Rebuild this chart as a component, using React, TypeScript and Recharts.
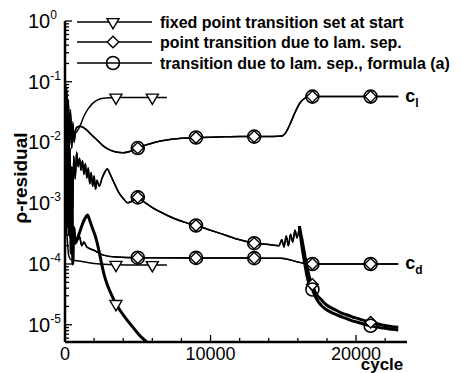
import { ComposedChart, Line, XAxis, YAxis, LabelList } from "recharts";

const W = 462;
const H = 373;
const PLOT = { left: 65, top: 21, right: 407, bottom: 342 };
const Y_MIN = 5.2e-6;
const Y_MAX = 1;
const X_MAX = 23500;
const FONT = "'Liberation Sans', Arial, Helvetica, sans-serif";

// axis ticks
const yExponents = [0, -1, -2, -3, -4, -5];
const xTickValues = [0, 2000, 4000, 6000, 8000, 10000, 12000, 14000, 16000, 18000, 20000, 22000];
const xLabelValues = [0, 10000, 20000];

const seriesNames = [
  "fixed point transition set at start",
  "point transition due to lam. sep.",
  "transition due to lam. sep., formula (a)",
];

// marker positions (cycle)
const fixedMarkers = [3500, 6000];
const sepMarkers = [5000, 9000, 13000, 17000, 21000];

// [cycle, value]
const fixedCl = [
  [0, 0.12], [60, 0.025], [120, 0.08], [180, 0.015], [240, 0.05], [300, 0.011],
  [380, 0.035], [460, 0.009], [540, 0.022], [620, 0.01], [720, 0.014], [800, 0.015],
  [1000, 0.018], [1300, 0.027], [1600, 0.036], [1900, 0.044], [2300, 0.051],
  [2800, 0.054], [3500, 0.055], [4500, 0.055], [6000, 0.055], [7000, 0.055],
];

const fixedCd = [
  [0, 0.02], [80, 0.0006], [160, 0.00025], [250, 0.00014], [400, 0.000118],
  [1000, 0.000112], [2000, 0.000102], [3000, 9.8e-5], [3500, 9.7e-5],
  [5000, 9.6e-5], [6000, 9.6e-5], [7000, 9.6e-5],
];

const fixedResidual = [
  [0, 0.09], [60, 0.002], [120, 0.03], [180, 0.0006], [240, 0.01], [300, 0.0003],
  [360, 0.004], [420, 0.00015], [480, 0.0015], [540, 0.0001], [600, 0.0004],
  [700, 0.00022], [850, 0.00026], [1000, 0.00033], [1150, 0.00042], [1300, 0.00052],
  [1450, 0.0006], [1550, 0.00064], [1700, 0.00052], [1900, 0.00038], [2100, 0.00028],
  [2300, 0.00018], [2500, 0.000105], [2700, 6.5e-5], [2900, 4.6e-5], [3200, 3.1e-5],
  [3500, 2.2e-5], [3800, 1.7e-5], [4100, 1.35e-5], [4600, 9.5e-6], [5100, 6.8e-6],
  [5700, 5.0e-6], [6000, 4.3e-6],
];

// lam. sep. runs share cl, cd and residual history up to the late spike
const sepCl = [
  [0, 0.11], [60, 0.02], [120, 0.07], [180, 0.012], [240, 0.04], [300, 0.009],
  [380, 0.03], [460, 0.008], [540, 0.02], [620, 0.011], [720, 0.016], [850, 0.018],
  [1000, 0.0185], [1200, 0.018], [1500, 0.016], [1800, 0.0135], [2200, 0.011],
  [2600, 0.0089], [3000, 0.0077], [3500, 0.007], [4000, 0.0068], [4500, 0.0072],
  [5000, 0.0081], [5500, 0.009], [6200, 0.0101], [7000, 0.011], [8000, 0.0117],
  [9000, 0.0121], [10500, 0.0123], [12000, 0.0125], [13000, 0.0125], [14200, 0.0126],
  [14900, 0.0128], [15200, 0.015], [15500, 0.021], [15800, 0.031], [16100, 0.043],
  [16400, 0.052], [16700, 0.056], [17000, 0.057], [19000, 0.057], [21000, 0.057],
  [22900, 0.057],
];

const sepCd = [
  [0, 0.05], [80, 0.0012], [160, 0.0004], [240, 0.0009], [320, 0.00028], [420, 0.0005],
  [520, 0.00022], [620, 0.00038], [720, 0.00024], [860, 0.00025], [1000, 0.00028],
  [1150, 0.0002], [1300, 0.00023], [1500, 0.00019], [1950, 0.00017], [2640, 0.00014],
  [3500, 0.00013], [5000, 0.000127], [9000, 0.000126], [13000, 0.000125],
  [14800, 0.000124], [15400, 0.000118], [16000, 0.000108], [16600, 0.000101],
  [17000, 0.0001], [21000, 0.0001], [22900, 0.0001],
];

const sepResidual = [
  [0, 0.1], [50, 0.005], [110, 0.04], [170, 0.001], [230, 0.02], [290, 0.0005],
  [350, 0.008], [410, 0.0003], [470, 0.004], [530, 0.0008], [600, 0.006], [700, 0.0025],
  [800, 0.007], [900, 0.004], [1000, 0.0055], [1100, 0.0035], [1200, 0.005],
  [1300, 0.003], [1400, 0.0045], [1500, 0.0026], [1600, 0.0038], [1700, 0.0021],
  [1800, 0.0032], [1900, 0.0019], [2000, 0.0028], [2100, 0.0017], [2200, 0.0024],
  [2350, 0.0019], [2550, 0.0026], [2750, 0.0033], [2900, 0.0037], [3100, 0.003],
  [3400, 0.0021], [3700, 0.0015], [4000, 0.0012], [4300, 0.00102], [4600, 0.00108],
  [5000, 0.00125], [5500, 0.00102], [6000, 0.00085], [6600, 0.00071], [7500, 0.00056],
  [8300, 0.00048], [9000, 0.00043], [10000, 0.00036], [11000, 0.0003], [12000, 0.00025],
  [13000, 0.00022], [14000, 0.00021], [14700, 0.0002], [14900, 0.00025], [15050, 0.00019],
  [15200, 0.00029], [15350, 0.0002], [15500, 0.00031], [15650, 0.00023], [15800, 0.00036],
  [15950, 0.00027], [16100, 0.00042],
];

const pointSepResidualTail = [
  [16100, 0.00042], [16300, 0.00024], [16500, 0.00013], [16700, 7.5e-5], [16850, 5.5e-5],
  [17000, 4.6e-5], [17200, 3.4e-5], [17400, 2.9e-5], [17600, 2.6e-5], [17800, 2.3e-5],
  [18000, 2.1e-5], [18300, 1.9e-5], [18600, 1.75e-5], [18900, 1.6e-5], [19200, 1.5e-5],
  [19500, 1.42e-5], [19800, 1.33e-5], [20100, 1.27e-5], [20400, 1.2e-5], [20700, 1.15e-5],
  [21000, 1.1e-5], [21300, 1.06e-5], [21600, 1.02e-5], [21900, 9.8e-6], [22200, 9.5e-6],
  [22500, 9.3e-6], [22900, 9.1e-6],
];

const formulaResidualTail = [
  [16100, 0.00042], [16250, 0.00022], [16450, 0.00011], [16650, 6e-5], [16850, 4.2e-5],
  [17000, 3.8e-5], [17200, 2.9e-5], [17400, 2.4e-5], [17600, 2.1e-5], [17800, 1.9e-5],
  [18000, 1.75e-5], [18300, 1.6e-5], [18600, 1.48e-5], [18900, 1.38e-5], [19200, 1.3e-5],
  [19500, 1.22e-5], [19800, 1.15e-5], [20100, 1.1e-5], [20400, 1.05e-5], [20700, 1.0e-5],
  [21000, 9.6e-6], [21300, 9.3e-6], [21600, 9.0e-6], [21900, 8.8e-6], [22200, 8.6e-6],
  [22500, 8.4e-6], [22900, 8.2e-6],
];

type Pt = { cycle: number; value: number };
const toPts = (rows: number[][]): Pt[] => rows.map(([cycle, value]) => ({ cycle, value }));

const yMajor = yExponents.map((e) => Math.pow(10, e));
const yTicks: number[] = [...yMajor];
for (let e = -6; e < 0; e++) {
  for (let m = 2; m <= 9; m++) {
    const v = m * Math.pow(10, e);
    if (v >= Y_MIN && v <= Y_MAX) yTicks.push(v);
  }
}

type Kind = "triangle" | "diamond" | "circle";

function Marker({ kind, cx, cy }: { kind: Kind; cx: number; cy: number }) {
  if (kind === "triangle") {
    const pts = `${cx - 6},${cy - 3.4} ${cx + 6},${cy - 3.4} ${cx},${cy + 6.8}`;
    return <polygon points={pts} fill="#fff" stroke="#000" strokeWidth={1.4} />;
  }
  if (kind === "diamond") {
    const r = 5.8;
    const pts = `${cx},${cy - r} ${cx + r},${cy} ${cx},${cy + r} ${cx - r},${cy}`;
    return <polygon points={pts} fill="#fff" stroke="#000" strokeWidth={1.4} />;
  }
  return <circle cx={cx} cy={cy} r={6.5} fill="none" stroke="#000" strokeWidth={1.6} />;
}

const markerDot = (kind: Kind, cycles: number[]) => (p: any) => {
  const key = p.key ?? `m-${kind}-${p.index}`;
  const show = p.payload && cycles.includes(p.payload.cycle) && p.payload.value >= Y_MIN;
  if (!show) return <g key={key} />;
  return (
    <g key={key}>
      <Marker kind={kind} cx={p.cx} cy={p.cy} />
    </g>
  );
};

const endLabel = (text: string, sub: string, count: number) => (p: any) => {
  if (p.index !== count - 1) return null;
  return (
    <text x={p.x + 7} y={p.y + 5} fontFamily={FONT} fontWeight="bold" fontSize={18} fill="#000">
      {text}
      <tspan fontSize={12} dy={5}>
        {sub}
      </tspan>
    </text>
  );
};

function YTick(props: any) {
  const v = props.payload.value as number;
  const y = props.y as number;
  const major = yMajor.some((m) => Math.abs(v / m - 1) < 1e-6);
  const exp = Math.round(Math.log10(v));
  return (
    <g>
      <line x1={PLOT.left} x2={PLOT.left + (major ? 7 : 4)} y1={y} y2={y} stroke="#000" strokeWidth={1.3} />
      {major && (
        <text x={28} y={y + 7} fontFamily={FONT} fontSize={20} fill="#000">
          10
          <tspan fontSize={12} dy={-9}>
            {exp}
          </tspan>
        </text>
      )}
    </g>
  );
}

function XTick(props: any) {
  const v = props.payload.value as number;
  const x = props.x as number;
  const major = xLabelValues.includes(v);
  return (
    <g>
      <line x1={x} x2={x} y1={PLOT.bottom} y2={PLOT.bottom - (major ? 7 : 4)} stroke="#000" strokeWidth={1.3} />
      {major && (
        <text x={x} y={360} textAnchor="middle" fontFamily={FONT} fontSize={18} fill="#000">
          {v}
        </text>
      )}
    </g>
  );
}

const legendKinds: Kind[] = ["triangle", "diamond", "circle"];
const legendRows = [22, 42, 63];

function Overlay() {
  return (
    <svg width={W} height={H} style={{ position: "absolute", left: 0, top: 0, pointerEvents: "none" }}>
      {seriesNames.map((name, i) => (
        <g key={name}>
          <line x1={77} x2={152} y1={legendRows[i]} y2={legendRows[i]} stroke="#000" strokeWidth={1.5} />
          <Marker kind={legendKinds[i]} cx={113} cy={legendRows[i]} />
          <text x={160} y={legendRows[i] + 6} fontFamily={FONT} fontWeight="bold" fontSize={16} fill="#000">
            {name}
          </text>
        </g>
      ))}
      <text
        transform="translate(20,178) rotate(-90)"
        textAnchor="middle"
        dominantBaseline="central"
        fontFamily={FONT}
        fontWeight="bold"
        fontSize={19}
        fill="#000"
      >
        ρ-residual
      </text>
      <text x={382} y={370} textAnchor="middle" fontFamily={FONT} fontWeight="bold" fontSize={17} fill="#000">
        cycle
      </text>
    </svg>
  );
}

export default function App() {
  const line = (
    key: string,
    rows: number[][],
    kind: Kind,
    markers: number[],
    width: number,
    label?: [string, string]
  ) => (
    <Line
      key={key}
      data={toPts(rows)}
      dataKey="value"
      type="monotone"
      stroke="#000"
      strokeWidth={width}
      dot={markerDot(kind, markers)}
      activeDot={false}
      isAnimationActive={false}
    >
      {label && <LabelList dataKey="value" content={endLabel(label[0], label[1], rows.length)} />}
    </Line>
  );

  return (
    <div style={{ position: "absolute", left: 0, top: 0, width: W, height: H, background: "#fff" }}>
      <ComposedChart width={W} height={H} margin={{ top: PLOT.top, right: W - PLOT.right, bottom: 0, left: 5 }}>
        <XAxis
          type="number"
          dataKey="cycle"
          domain={[0, X_MAX]}
          ticks={xTickValues}
          interval={0}
          allowDataOverflow
          tick={XTick}
          tickLine={false}
          axisLine={{ stroke: "#000", strokeWidth: 2.5 }}
          height={H - PLOT.bottom}
        />
        <YAxis
          type="number"
          scale="log"
          domain={[Y_MIN, Y_MAX]}
          ticks={yTicks}
          interval={0}
          allowDataOverflow
          tick={YTick}
          tickLine={false}
          axisLine={{ stroke: "#000", strokeWidth: 2.5 }}
          width={PLOT.left - 5}
        />
        {line("fixed-cl", fixedCl, "triangle", fixedMarkers, 1.5)}
        {line("fixed-cd", fixedCd, "triangle", fixedMarkers, 1.5)}
        {line("fixed-res", fixedResidual, "triangle", fixedMarkers, 3)}
        {line("point-cl", sepCl, "diamond", sepMarkers, 1.5)}
        {line("point-cd", sepCd, "diamond", sepMarkers, 1.5)}
        {line("point-res", sepResidual, "diamond", sepMarkers, 1.5)}
        {line("point-tail", pointSepResidualTail, "diamond", sepMarkers, 3)}
        {line("formula-cl", sepCl, "circle", sepMarkers, 1.5, ["c", "l"])}
        {line("formula-cd", sepCd, "circle", sepMarkers, 1.5, ["c", "d"])}
        {line("formula-res", sepResidual, "circle", sepMarkers, 1.5)}
        {line("formula-tail", formulaResidualTail, "circle", sepMarkers, 3)}
      </ComposedChart>
      <Overlay />
    </div>
  );
}
